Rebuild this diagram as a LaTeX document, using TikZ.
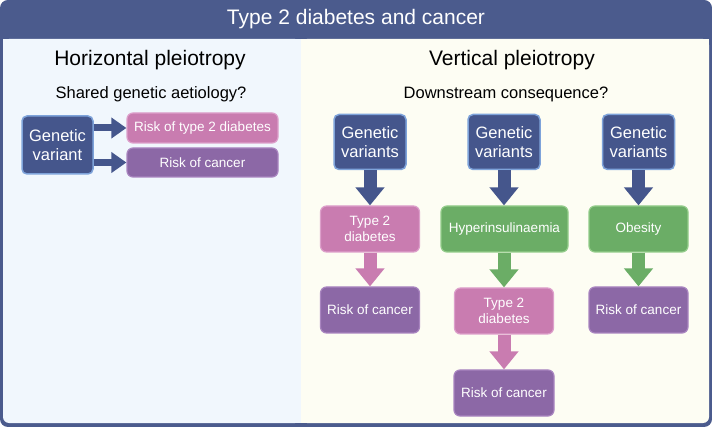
\documentclass[tikz,border=0pt]{standalone}
\usepackage{fontspec}
\setmainfont{Liberation Sans}
\usepackage{tikz}
\usetikzlibrary{arrows.meta, positioning, calc, backgrounds}
\usepackage{xcolor}
\definecolor{PanelFrame}{HTML}{4B5B8D}
\definecolor{PanelLeft}{HTML}{F1F7FD}
\definecolor{PanelRight}{HTML}{FDFDF3}
\definecolor{GeneBlue}{HTML}{45568C}
\definecolor{GeneEdge}{HTML}{7EA3DA}
\definecolor{DiabPink}{HTML}{C97CB0}
\definecolor{DiabEdge}{HTML}{DDA0CB}
\definecolor{CancPurple}{HTML}{8C68A6}
\definecolor{CancEdge}{HTML}{A985C0}
\definecolor{MedGreen}{HTML}{6BAD66}
\definecolor{MedEdge}{HTML}{93CC8A}
\tikzset{
    % Box styles - rounded corners
    geneticbox/.style={
        rectangle,
        rounded corners=5pt,
        draw=GeneEdge,
        fill=GeneBlue,
        line width=1.5pt,
        minimum width=72pt,
        minimum height=55pt,
        align=center,
        text=white,
        font=\fontsize{16.5}{19}\selectfont
    },
    diabetesbox/.style={
        rectangle,
        rounded corners=6pt,
        draw=DiabEdge,
        fill=DiabPink,
        line width=1.2pt,
        minimum width=99pt,
        minimum height=46pt,
        align=center,
        text=white,
        font=\fontsize{13.5}{16}\selectfont
    },
    cancerbox/.style={
        diabetesbox,
        draw=CancEdge,
        fill=CancPurple
    },
    mediatorbox/.style={
        diabetesbox,
        draw=MedEdge,
        fill=MedGreen
    },
    % Arrow styles - block arrows
    downarrow/.style={
        -{Triangle[width=28pt,length=18pt]},
        line width=13pt,
        draw=#1
    },
    sidearrow/.style={
        -{Triangle[width=20pt,length=15pt]},
        line width=7pt,
        draw=GeneBlue
    },
    heading/.style={font=\fontsize{21}{24}\selectfont},
    question/.style={font=\fontsize{16.5}{19}\selectfont}
}
\begin{document}
\begin{tikzpicture}[x=1pt, y=-1pt]
    \useasboundingbox (0,0) rectangle (712,427);

    % frame and panels
    \fill[PanelFrame, rounded corners=8pt] (0,0) rectangle (712,427);
    \fill[PanelLeft, rounded corners=6pt] (3,39) rectangle (301,423);
    \fill[PanelLeft] (3,39) rectangle (301,400);
    \fill[PanelLeft] (150,39) rectangle (301,423);
    \fill[PanelRight, rounded corners=6pt] (301,39) rectangle (709,423);
    \fill[PanelRight] (301,39) rectangle (709,400);
    \fill[PanelRight] (301,39) rectangle (600,423);

    \node[text=white, heading] (title) at (356,19) {Type 2 diabetes and cancer};
    \node[heading] (horiz) at (150,60) {Horizontal pleiotropy};
    \node[question] (shared) at (151,94) {Shared genetic aetiology?};
    \node[heading] (vert) at (512,60) {Vertical pleiotropy};
    \node[question] (down) at (506,94) {Downstream consequence?};

    % horizontal pleiotropy
    \node[geneticbox, minimum width=71pt, minimum height=58pt] (gvl) at (57.5,145) {Genetic\\variant};
    \node[diabetesbox, minimum width=151pt, minimum height=30pt] (rtd) at (202.5,128) {Risk of type 2 diabetes};
    \node[cancerbox, minimum width=151pt, minimum height=29pt] (rcl) at (202.5,162.5) {Risk of cancer};

    \draw[sidearrow] (gvl.east |- rtd.west) -- (rtd.west);
    \draw[sidearrow] (gvl.east |- rcl.west) -- (rcl.west);

    % vertical pleiotropy, first column
    \node[geneticbox] (gva) at (370,142) {Genetic\\variants};
    \node[diabetesbox] (tda) at (370,229) {Type 2\\diabetes};
    \node[cancerbox] (rca) at (370,310) {Risk of cancer};

    \draw[downarrow=GeneBlue] (gva) -- (tda);
    \draw[downarrow=DiabPink] (tda) -- (rca);

    % second column
    \node[geneticbox] (gvb) at (504,142) {Genetic\\variants};
    \node[mediatorbox, minimum width=127pt] (hyp) at (504.5,229) {Hyperinsulinaemia};
    \node[diabetesbox] (tdb) at (504,311) {Type 2\\diabetes};
    \node[cancerbox, minimum width=100pt] (rcb) at (504,393) {Risk of cancer};

    \draw[downarrow=GeneBlue] (gvb) -- (hyp.north -| gvb);
    \draw[downarrow=MedGreen] (hyp.south -| gvb) -- (tdb);
    \draw[downarrow=DiabPink] (tdb) -- (rcb);

    % third column
    \node[geneticbox] (gvc) at (638.5,142) {Genetic\\variants};
    \node[mediatorbox] (obe) at (638.5,229) {Obesity};
    \node[cancerbox] (rcc) at (638.5,310) {Risk of cancer};

    \draw[downarrow=GeneBlue] (gvc) -- (obe);
    \draw[downarrow=MedGreen] (obe) -- (rcc);
\end{tikzpicture}
\end{document}
